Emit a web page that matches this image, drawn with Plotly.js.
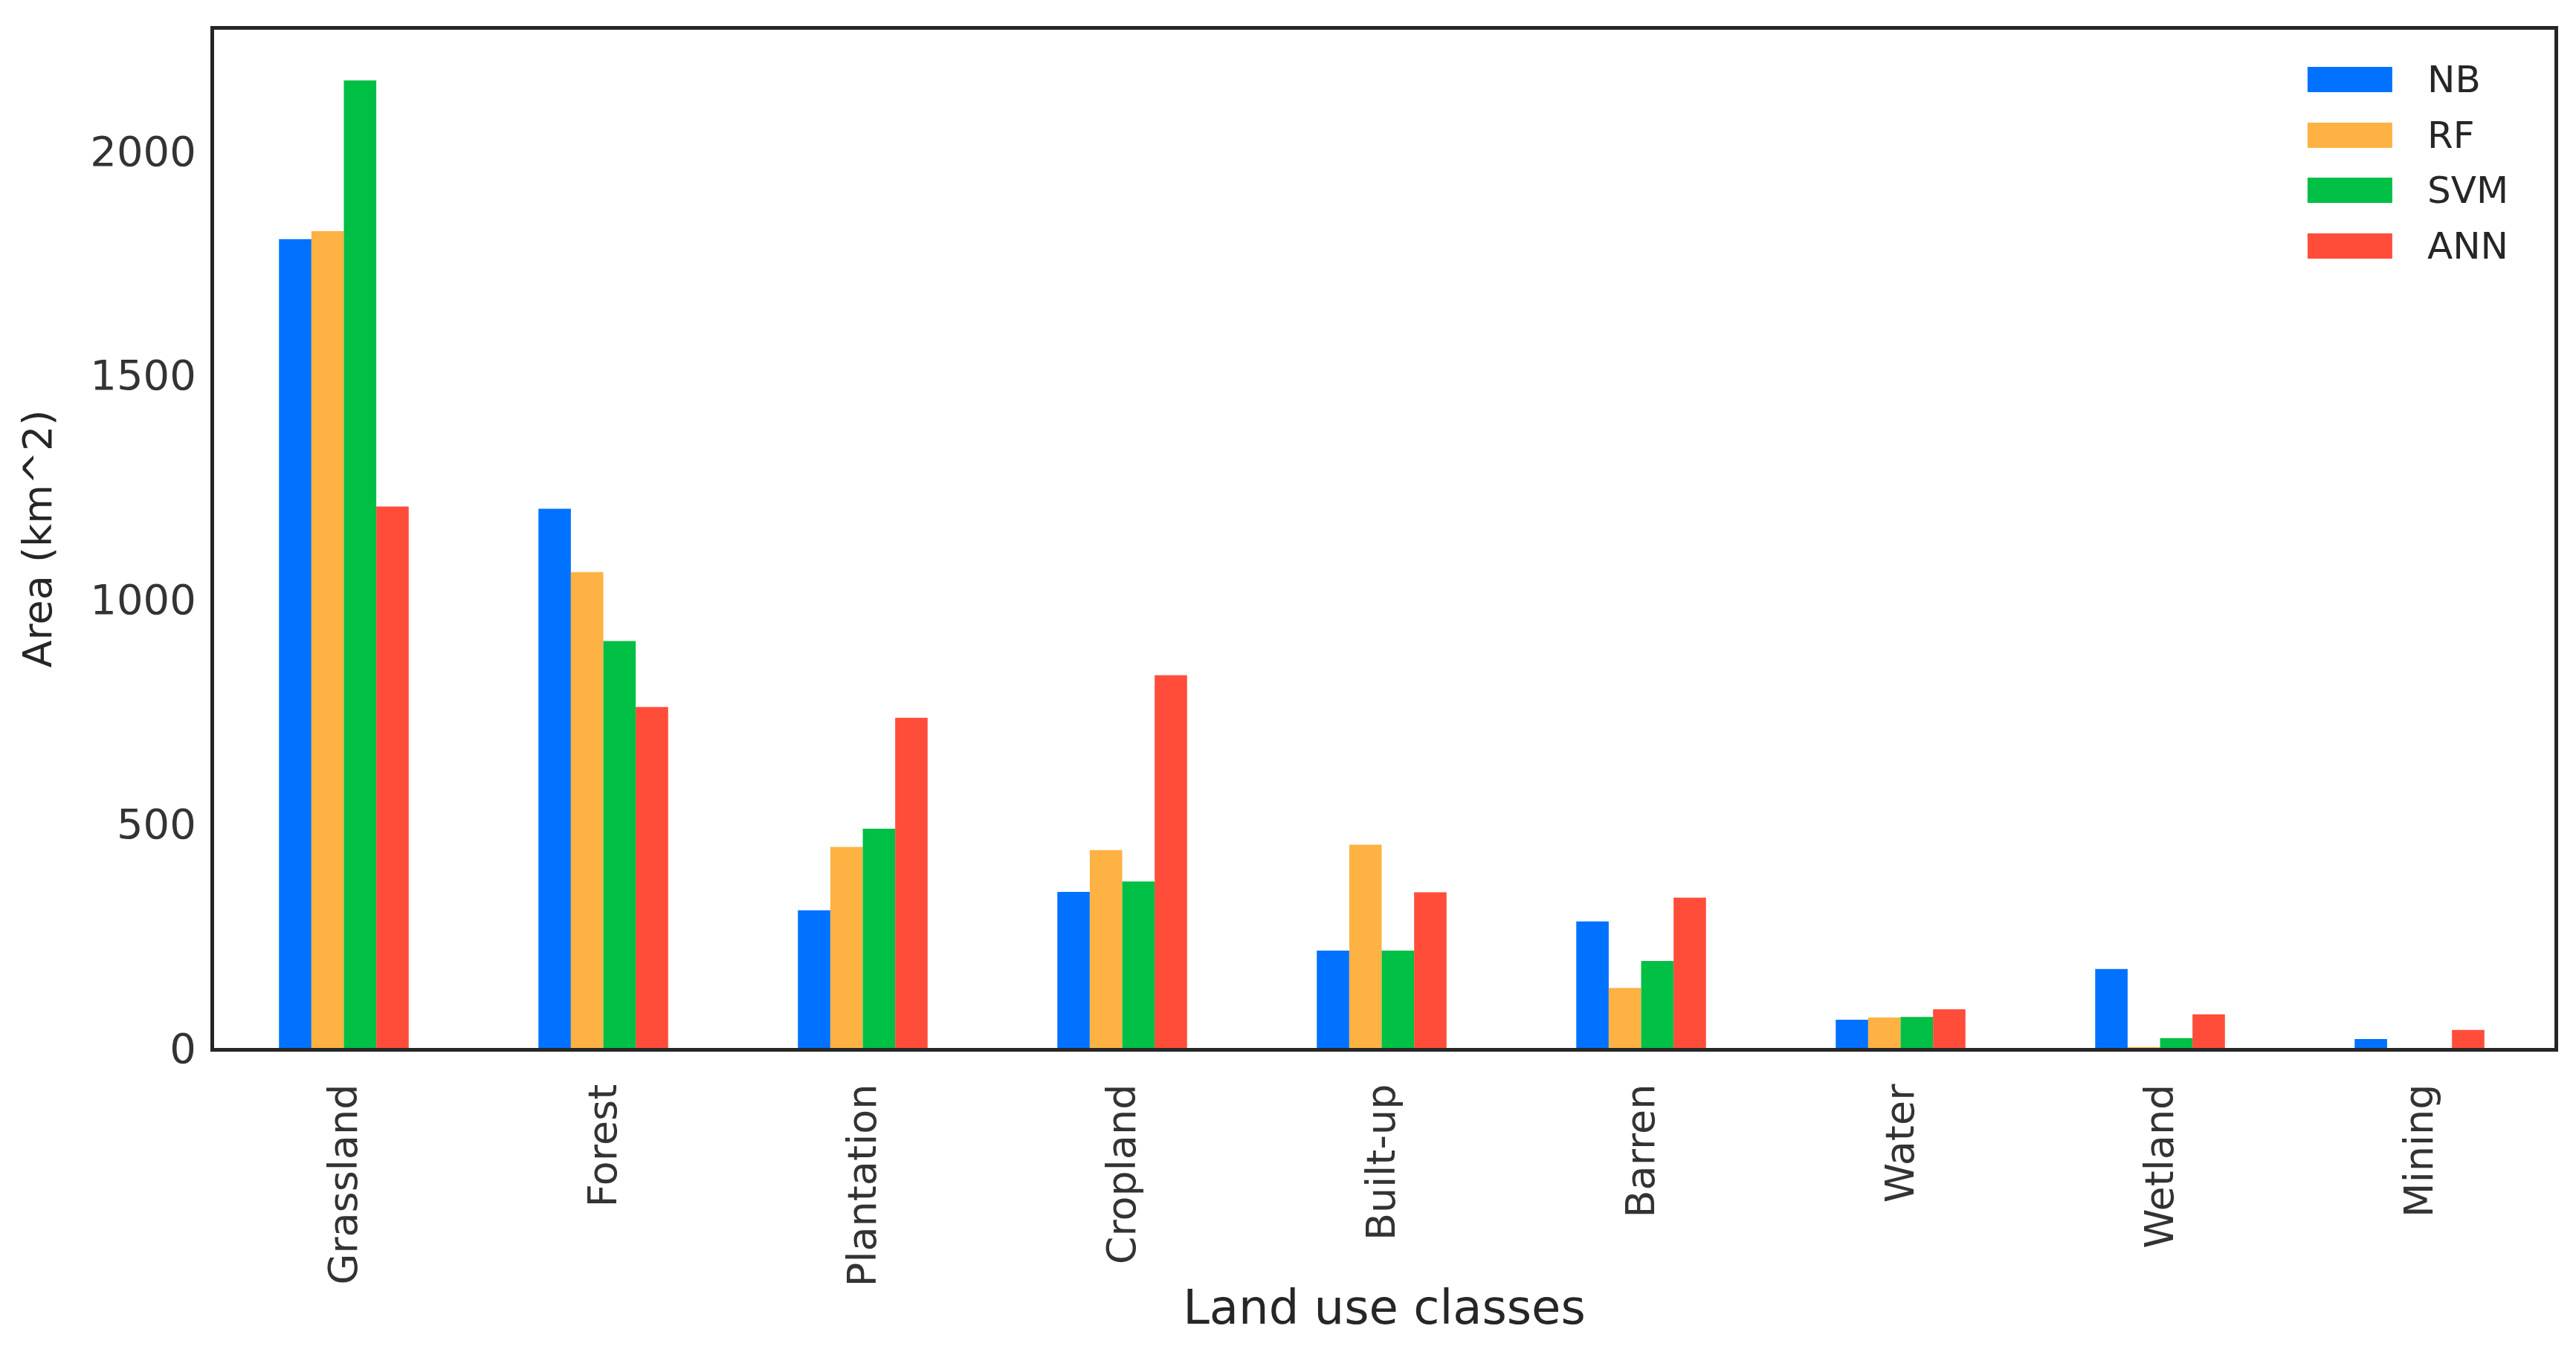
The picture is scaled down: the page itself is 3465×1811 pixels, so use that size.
<!DOCTYPE html>
<html>
<head>
<meta charset="utf-8">
<script src="https://cdn.plot.ly/plotly-3.0.1.min.js"></script>
<style>html,body{margin:0;padding:0;background:#fff;}#chart{width:3465px;height:1811px;}</style>
</head>
<body>
<div id="chart"></div>
<script>
const categories = ["Grassland","Forest","Plantation","Cropland","Built-up","Barren","Water","Wetland","Mining"];
const seriesNames = ["NB","RF","SVM","ANN"];
const NB  = [1803, 1202, 307, 348, 217, 282, 63, 176, 20];
const RF  = [1821, 1061, 448, 441, 453, 134, 68, 2, 0];
const SVM = [2157, 907, 489, 371, 217, 194, 69, 22, 0];
const ANN = [1207, 760, 736, 831, 347, 335, 86, 75, 40];
const colors = ["#0072FF", "#FDB243", "#00BF45", "#FF4D3A"];
const yTicks = [0, 500, 1000, 1500, 2000];

const values = [NB, RF, SVM, ANN];
const traces = seriesNames.map((name, i) => ({
  type: "bar",
  name: name,
  x: categories,
  y: values[i],
  marker: {color: colors[i], line: {width: 0}},
  showlegend: false
}));

const FONT = "DejaVu Sans, sans-serif";
const textColor = "#262626";

// Custom legend (large swatches) built from series names and colours
const legendShapes = [];
const legendAnn = [];
const rowY = [0.9511, 0.8964, 0.8423, 0.7876];
seriesNames.forEach((name, i) => {
  legendShapes.push({
    type: "rect", xref: "paper", yref: "paper",
    x0: 0.8945, x1: 0.9307, y0: rowY[i] - 0.0124, y1: rowY[i] + 0.0124,
    fillcolor: colors[i], line: {width: 0}
  });
  legendAnn.push({
    xref: "paper", yref: "paper", x: 0.945, y: rowY[i],
    xanchor: "left", yanchor: "middle", showarrow: false,
    text: name, font: {family: FONT, size: 50, color: textColor}
  });
});

const layout = {
  width: 3465, height: 1811,
  paper_bgcolor: "#ffffff", plot_bgcolor: "#ffffff",
  margin: {l: 288, r: 29, t: 40, b: 401, autoexpand: false},
  barmode: "group", bargap: 0.5, bargroupgap: 0,
  font: {family: FONT, size: 54, color: textColor},
  xaxis: {
    type: "category",
    range: [-0.5, 8.52],
    showline: true, mirror: true, linecolor: "#262626", linewidth: 5,
    showgrid: false, zeroline: false, ticks: "",
    tickangle: -90,
    ticklabelstandoff: 22,
    tickfont: {family: FONT, size: 54, color: "#333333"},
    title: {text: "Land use classes", font: {family: FONT, size: 64, color: textColor}, standoff: 8},
    automargin: false
  },
  yaxis: {
    range: [0, 2270],
    tickvals: yTicks,
    ticktext: yTicks.map(String),
    showline: true, mirror: true, linecolor: "#262626", linewidth: 5,
    showgrid: false, zeroline: false, ticks: "",
    ticklabelstandoff: 8,
    tickfont: {family: FONT, size: 56, color: "#333333"},
    title: {text: "Area (km^2)", font: {family: FONT, size: 54, color: textColor}, standoff: 36},
    automargin: false
  },
  shapes: legendShapes,
  annotations: legendAnn,
  showlegend: false
};

Plotly.newPlot("chart", traces, layout, {displayModeBar: false, staticPlot: true});
</script>
</body>
</html>
